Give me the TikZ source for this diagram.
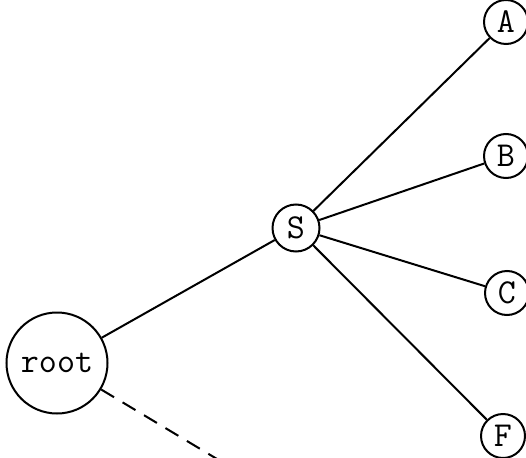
\documentclass[tikz,border=0pt]{standalone}
\begin{document}
\begin{tikzpicture}[x=1pt,y=-1pt,
  every node/.style={font=\fontsize{35}{35}\selectfont\ttfamily},
  bignode/.style={draw,circle,line width=2pt,minimum size=101pt,inner sep=0pt},
  midnode/.style={draw,circle,line width=2pt,minimum size=47pt,inner sep=0pt},
  leafnode/.style={draw,circle,line width=2pt,minimum size=44pt,inner sep=0pt},
  edge/.style={line width=2pt}]
\useasboundingbox (0,0) rectangle (526,457);
\clip (0,0) rectangle (526,457);
\node[bignode] (root) at (57,363) {root};
\node[midnode] (S) at (296,228) {S};
\node[leafnode] (A) at (506,22) {A};
\node[leafnode] (B) at (506,156) {B};
\node[leafnode] (C) at (507,293) {C};
\node[leafnode] (F) at (503,436) {F};
\coordinate (end) at (232,468);
\draw[edge] (root) -- (S);
\draw[edge] (S) -- (A);
\draw[edge] (S) -- (B);
\draw[edge] (S) -- (C);
\draw[edge] (S) -- (F);
\draw[edge,dash pattern=on 15pt off 10pt] (root) -- (end);
\end{tikzpicture}
\end{document}
